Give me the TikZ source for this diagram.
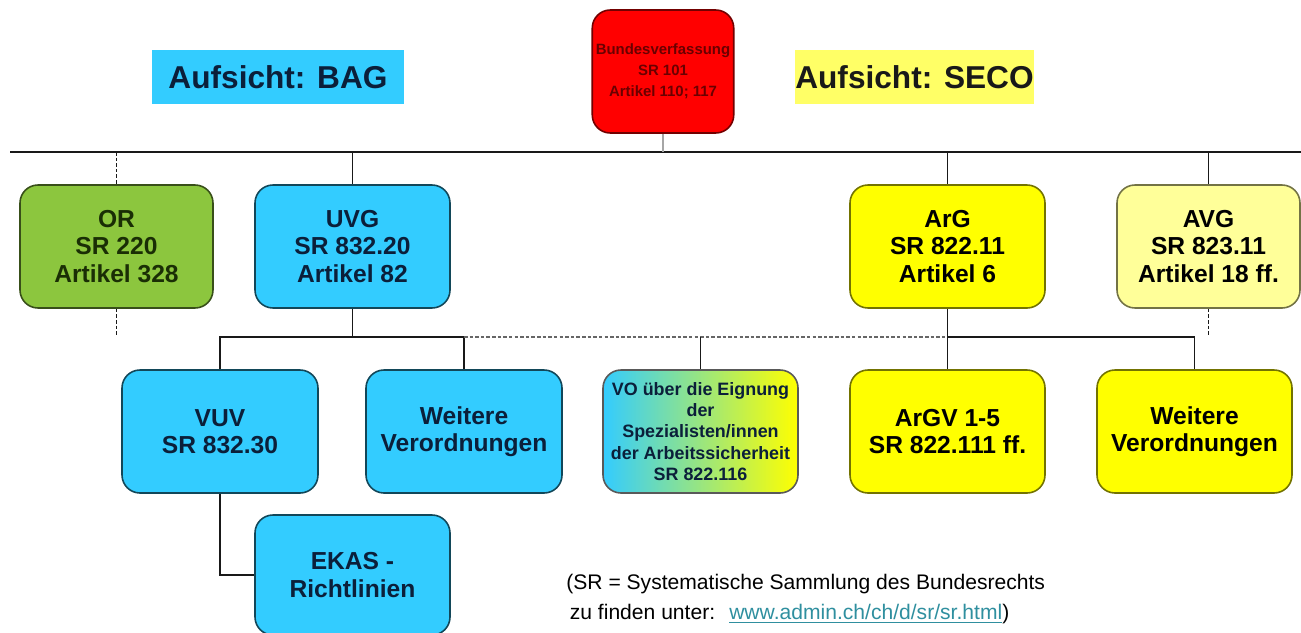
\documentclass[tikz,border=0pt]{standalone}
\usepackage{fontspec}
\setmainfont{Liberation Sans}
\usetikzlibrary{calc}
\definecolor{cyanbox}{HTML}{33CCFF}
\definecolor{greenbox}{HTML}{8CC63E}
\definecolor{yellowbox}{HTML}{FFFF00}
\definecolor{paleyellow}{HTML}{FFFF99}
\definecolor{secoyellow}{HTML}{FFFF66}
\definecolor{redbox}{HTML}{FF0000}
\definecolor{navytext}{HTML}{0B1F3A}
\definecolor{greentext}{HTML}{1A2E05}
\definecolor{redtext}{HTML}{6A0000}
\definecolor{linkc}{HTML}{2F8F9F}
\begin{document}
\begin{tikzpicture}[x=0.02cm,y=-0.02cm,
  wh/.style 2 args={minimum width=#1*0.02cm, minimum height=#2*0.02cm},
  box/.style={rounded corners=0.36cm, line width=0.9pt, align=center, inner sep=2pt,
    font=\fontsize{14}{15.6}\selectfont\bfseries},
  bluebox/.style={box, fill=cyanbox, draw=cyanbox!35!black, text=navytext},
  yelbox/.style={box, fill=yellowbox, draw=yellowbox!45!black, text=black},
  paleybox/.style={box, fill=paleyellow, draw=paleyellow!45!black, text=black},
  grnbox/.style={box, fill=greenbox, draw=greenbox!40!black, text=greentext},
  rbox/.style={box, fill=redbox, draw=redbox!45!black, text=redtext,
    font=\fontsize{8.5}{12}\selectfont\bfseries},
  vobox/.style={box, left color=cyanbox, right color=yellowbox, draw=black!65, text=navytext,
    font=\fontsize{10.2}{12.2}\selectfont\bfseries},
  label/.style={inner sep=0pt, font=\fontsize{18}{20}\selectfont\bfseries},
  conn/.style={line width=0.9pt, black!90},
  dconn/.style={conn, dashed, dash pattern=on 2pt off 1.2pt},
]
\useasboundingbox (0,0) rectangle (1301,632);

% top
\node[rbox, wh={140}{123}] (bv) at (663,71.5) {Bundesverfassung\\SR 101\\Artikel 110; 117};
\node[label, fill=cyanbox, text=navytext, wh={252}{54}] (bag) at (278,77) {Aufsicht: BAG};
\node[label, fill=secoyellow, text=black!90, wh={225}{54}] (seco) at (914.5,77) {Aufsicht: SECO};

% level 1
\node[grnbox, wh={193}{123}] (or) at (116.5,246.5) {OR\\SR 220\\Artikel 328};
\node[bluebox, wh={195}{123}] (uvg) at (352.5,246.5) {UVG\\SR 832.20\\Artikel 82};
\node[yelbox, wh={195}{123}] (arg) at (947.5,246.5) {ArG\\SR 822.11\\Artikel 6};
\node[paleybox, wh={183}{123}] (avg) at (1208.5,246.5) {AVG\\SR 823.11\\Artikel 18 ff.};

% level 2
\node[bluebox, wh={196}{123}] (vuv) at (220,431.5) {VUV\\SR 832.30};
\node[bluebox, wh={196}{123}] (w1) at (464,431.5) {Weitere\\Verordnungen};
\node[vobox, wh={195}{123}] (vo) at (700.5,431.5) {VO über die Eignung\\der\\Spezialisten/innen\\der Arbeitssicherheit\\SR 822.116};
\node[yelbox, wh={195}{123}] (argv) at (947.5,431.5) {ArGV 1-5\\SR 822.111 ff.};
\node[yelbox, wh={195}{123}] (w2) at (1194.5,431.5) {Weitere\\Verordnungen};

% level 3
\node[bluebox, wh={195}{120}] (ekas) at (352.5,575) {EKAS -\\Richtlinien};

% footnote
\node[anchor=north west, align=left, inner sep=0pt, font=\fontsize{12}{17}\selectfont] (note) at (566,574)
  {(SR = Systematische Sammlung des Bundesrechts\\
   \hspace{2pt}zu finden unter:\hspace{8pt}\textcolor{linkc}{\underline{www.admin.ch/ch/d/sr/sr.html}})};

% connectors
\coordinate (L) at (10,152);
\coordinate (R) at (1301,152);
\coordinate (M) at (0,337);
\coordinate (orend) at (116.5,336);
\coordinate (avgend) at (1208.5,336);

\draw[conn] (L) -- (R);
\draw[line width=0.9pt, gray!70] (bv.south) -- (bv.south |- L);
\draw[dconn] (or.north |- L) -- (or.north);
\draw[conn] (uvg.north |- L) -- (uvg.north);
\draw[conn] (arg.north |- L) -- (arg.north);
\draw[conn] (avg.north |- L) -- (avg.north);
\draw[dconn] (or.south) -- (orend);
\draw[dconn] (avg.south) -- (avgend);

\draw[conn] (uvg.south) -- (uvg.south |- M);
\draw[conn] (vuv.north) -- (vuv.north |- M) -- (w1.north |- M) -- (w1.north);
\draw[dconn, black!60] (w1.north |- M) -- (arg.south |- M);
\draw[conn] (vo.north |- M) -- (vo.north);
\draw[conn] (arg.south) -- (argv.north);
\draw[conn] (argv.north |- M) -- (w2.north |- M) -- (w2.north);
\draw[conn] (vuv.south) |- (ekas.west);
\end{tikzpicture}
\end{document}
